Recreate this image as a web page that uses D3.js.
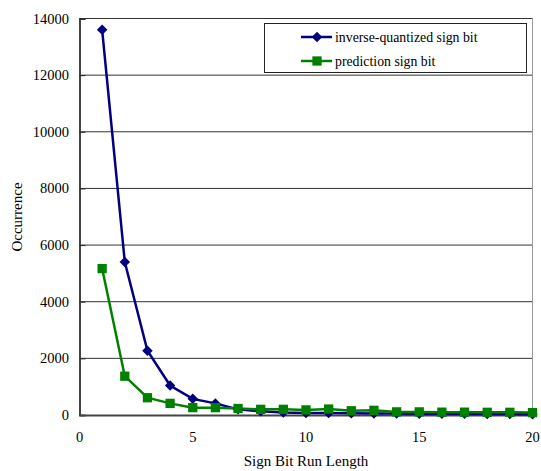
<!DOCTYPE html>
<html>
<head>
<meta charset="utf-8">
<script src="https://cdn.jsdelivr.net/npm/d3@7"></script>
<style>
  body { margin: 0; background: #fff; }
</style>
</head>
<body>
<script>
// run length 1..20
var runLength = d3.range(1, 21);
var inverseQuantized = [13600, 5400, 2270, 1040, 570, 410, 200, 130, 90, 70, 70, 60, 55, 50, 45, 40, 40, 35, 35, 30];
var prediction = [5170, 1370, 610, 410, 260, 260, 230, 200, 200, 180, 210, 150, 165, 110, 110, 100, 100, 95, 95, 85];
var yTicks = [0, 2000, 4000, 6000, 8000, 10000, 12000, 14000];
var xTicks = [0, 5, 10, 15, 20];
var seriesNames = ["inverse-quantized sign bit", "prediction sign bit"];

var w = 541, h = 471;
var m = {left: 79.5, right: 8.5, top: 18.5, bottom: 56};
var serif = "'Liberation Serif', 'Times New Roman', 'DejaVu Serif', serif";

var svg = d3.select("body").append("svg")
  .attr("width", w)
  .attr("height", h)
  .attr("font-family", serif);

var x = d3.scaleLinear().domain([0, 20]).range([m.left, w - m.right]);
var y = d3.scaleLinear().domain([0, 14000]).range([h - m.bottom, m.top]);

// gridlines
svg.selectAll(".grid")
  .data(yTicks.slice(1))
  .enter().append("line")
  .attr("x1", x(0)).attr("x2", x(20))
  .attr("y1", function(d){ return y(d); })
  .attr("y2", function(d){ return y(d); })
  .attr("stroke", "#333")
  .attr("stroke-width", 1);

// plot frame right side
svg.append("line")
  .attr("x1", x(20)).attr("x2", x(20))
  .attr("y1", y(14000)).attr("y2", y(0))
  .attr("stroke", "#999");

// y axis
var yAxis = svg.append("g")
  .attr("transform", "translate(" + x(0) + ",0)")
  .call(d3.axisRight(y).tickValues(yTicks).tickSize(6).tickFormat(""));
yAxis.select(".domain").attr("stroke", "#444").attr("stroke-width", 2);
yAxis.selectAll(".tick line").attr("stroke", "#222");

svg.selectAll(".ylab")
  .data(yTicks)
  .enter().append("text")
  .attr("x", 69)
  .attr("y", function(d){ return y(d) + 5; })
  .attr("text-anchor", "end")
  .attr("font-size", 14.5)
  .text(function(d){ return d; });

// x axis
var xAxis = svg.append("g")
  .attr("transform", "translate(0," + y(0) + ")")
  .call(d3.axisBottom(x).tickValues(xTicks).tickSize(0).tickFormat(""));
xAxis.select(".domain").attr("stroke", "#444").attr("stroke-width", 2);

svg.selectAll(".xlab")
  .data(xTicks)
  .enter().append("text")
  .attr("x", function(d){ return x(d); })
  .attr("y", 442)
  .attr("text-anchor", "middle")
  .attr("font-size", 14.5)
  .text(function(d){ return d; });

svg.append("text")
  .attr("x", 306).attr("y", 466)
  .attr("text-anchor", "middle")
  .attr("font-size", 15)
  .text("Sign Bit Run Length");

svg.append("text")
  .attr("transform", "translate(22,217) rotate(-90)")
  .attr("text-anchor", "middle")
  .attr("font-size", 15)
  .text("Occurrence");

var line = d3.line()
  .x(function(d, i){ return x(runLength[i]); })
  .y(function(d){ return y(d); });

var diamond = d3.symbol().type(d3.symbolDiamond2).size(70);
var square = d3.symbol().type(d3.symbolSquare2).size(110);

// blue series
svg.append("path")
  .attr("d", line(inverseQuantized))
  .attr("fill", "none")
  .attr("stroke", "#000080")
  .attr("stroke-width", 2.5);

// green series
svg.append("path")
  .attr("d", line(prediction))
  .attr("fill", "none")
  .attr("stroke", "#008000")
  .attr("stroke-width", 2.5);

svg.selectAll(".dia")
  .data(inverseQuantized)
  .enter().append("path")
  .attr("d", diamond)
  .attr("transform", function(d, i){ return "translate(" + x(runLength[i]) + "," + y(d) + ")"; })
  .attr("fill", "#000080");

svg.selectAll(".sq")
  .data(prediction)
  .enter().append("path")
  .attr("d", square)
  .attr("transform", function(d, i){ return "translate(" + x(runLength[i]) + "," + y(d) + ")"; })
  .attr("fill", "#008000");

// legend
var lg = svg.append("g");
lg.append("rect")
  .attr("x", 264.5).attr("y", 23.5)
  .attr("width", 262).attr("height", 49)
  .attr("fill", "#fff")
  .attr("stroke", "#222");

var items = lg.selectAll(".item")
  .data(seriesNames)
  .enter().append("g")
  .attr("transform", function(d, i){ return "translate(0," + (37 + i * 24) + ")"; });

items.append("line")
  .attr("x1", 301).attr("x2", 332)
  .attr("y1", 0).attr("y2", 0)
  .attr("stroke", function(d, i){ return i ? "#008000" : "#000080"; })
  .attr("stroke-width", 2.5);

items.append("path")
  .attr("d", function(d, i){ return i ? square() : diamond(); })
  .attr("transform", "translate(317,0)")
  .attr("fill", function(d, i){ return i ? "#008000" : "#000080"; });

items.append("text")
  .attr("x", 335).attr("y", 5)
  .attr("font-size", 13.8)
  .text(function(d){ return d; });
</script>
</body>
</html>
